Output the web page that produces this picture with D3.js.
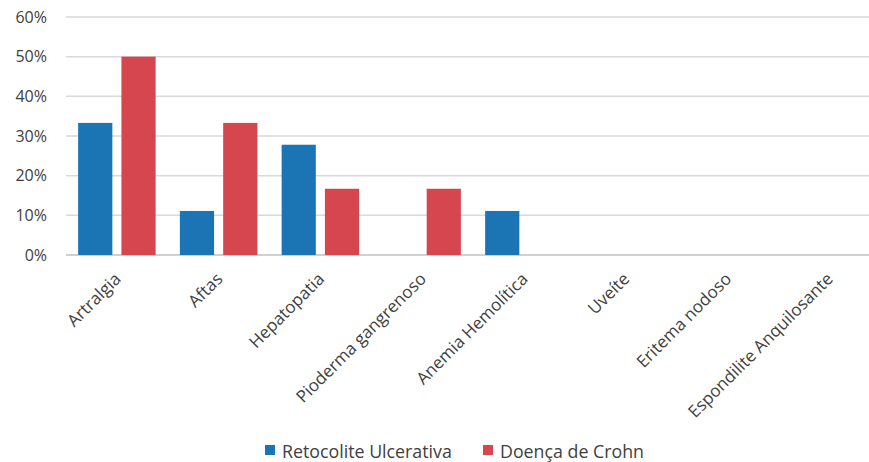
<!DOCTYPE html>
<html>
<head>
<meta charset="utf-8">
<script src="https://cdn.jsdelivr.net/npm/d3@7"></script>
<style>
  body { margin: 0; background: #fff; }
  text { font-family: "Open Sans", "Liberation Sans", sans-serif; fill: #404040; }
</style>
</head>
<body>
<script>
var categories = ["Artralgia", "Aftas", "Hepatopatia", "Pioderma gangrenoso",
    "Anemia Hemolítica", "Uveíte", "Eritema nodoso", "Espondilite Anquilosante"]
var seriesNames = ["Retocolite Ulcerativa", "Doença de Crohn"]
var retocolite = [0.333, 0.111, 0.278, 0, 0.111, 0, 0, 0]
var crohn = [0.50, 0.333, 0.167, 0.167, 0, 0, 0, 0]
var colors = ["#1b75b4", "#d5464f"]
var yTicks = [0, 0.1, 0.2, 0.3, 0.4, 0.5, 0.6]

var width = 869, height = 462
var margin = {top: 17, right: -11, bottom: 207, left: 66}
var w = width - margin.left - margin.right,
    h = height - margin.top - margin.bottom

var svg = d3.select("body").append("svg")
    .attr("width", width)
    .attr("height", height)

var g = svg.append("g")
    .attr("transform", "translate(" + margin.left + "," + margin.top + ")")

var x = d3.scaleBand().domain(categories).range([0, w]).padding(0)
var xInner = d3.scaleBand().domain(seriesNames).range([0, x.step()])
    .paddingInner(0.21).paddingOuter(0.28)
var y = d3.scaleLinear().domain([0, 0.6]).range([h, 0])

// gridlines
g.selectAll("line.grid")
    .data(yTicks)
    .enter().append("line")
    .attr("class", "grid")
    .attr("x1", 0).attr("x2", w)
    .attr("y1", function(d) { return y(d) }).attr("y2", function(d) { return y(d) })
    .attr("stroke", function(d) { return d === 0 ? "#c0c0c0" : "#d9d9d9" })
    .attr("stroke-width", 1.5)

// y labels
g.selectAll("text.ylab")
    .data(yTicks)
    .enter().append("text")
    .attr("class", "ylab")
    .attr("x", -19)
    .attr("y", function(d) { return y(d) })
    .attr("dy", "0.35em")
    .attr("text-anchor", "end")
    .style("font-size", "16px")
    .text(d3.format(".0%"))

var data = seriesNames.map(function(s, i) {
    var vals = i === 0 ? retocolite : crohn
    return categories.map(function(c, j) { return {cat: c, series: s, value: vals[j], idx: i} })
})

g.selectAll("g.series")
    .data(data)
    .enter().append("g")
    .attr("class", "series")
    .attr("fill", function(d, i) { return colors[i] })
    .selectAll("rect")
    .data(function(d) { return d.filter(function(e) { return e.value > 0 }) })
    .enter().append("rect")
    .attr("x", function(d) { return x(d.cat) + xInner(d.series) })
    .attr("width", xInner.bandwidth())
    .attr("y", function(d) { return y(d.value) })
    .attr("height", function(d) { return h - y(d.value) })

// x labels
g.selectAll("text.xlab")
    .data(categories)
    .enter().append("text")
    .attr("class", "xlab")
    .attr("text-anchor", "end")
    .style("font-size", "17px")
    .attr("transform", function(d) {
        return "translate(" + (x(d) + x.bandwidth() / 2 + 5) + "," + (h + 25) + ") rotate(-45)"
    })
    .text(function(d) { return d })

// legend
var legend = svg.append("g").attr("transform", "translate(0,452)")
var legendX = [265, 483]
seriesNames.forEach(function(s, i) {
    legend.append("rect")
        .attr("x", legendX[i]).attr("y", -7)
        .attr("width", 10).attr("height", 10)
        .attr("fill", colors[i])
    legend.append("text")
        .attr("x", legendX[i] + 17).attr("y", 0)
        .attr("dy", "0.32em")
        .style("font-size", "17.8px")
        .text(s)
})
</script>
</body>
</html>
